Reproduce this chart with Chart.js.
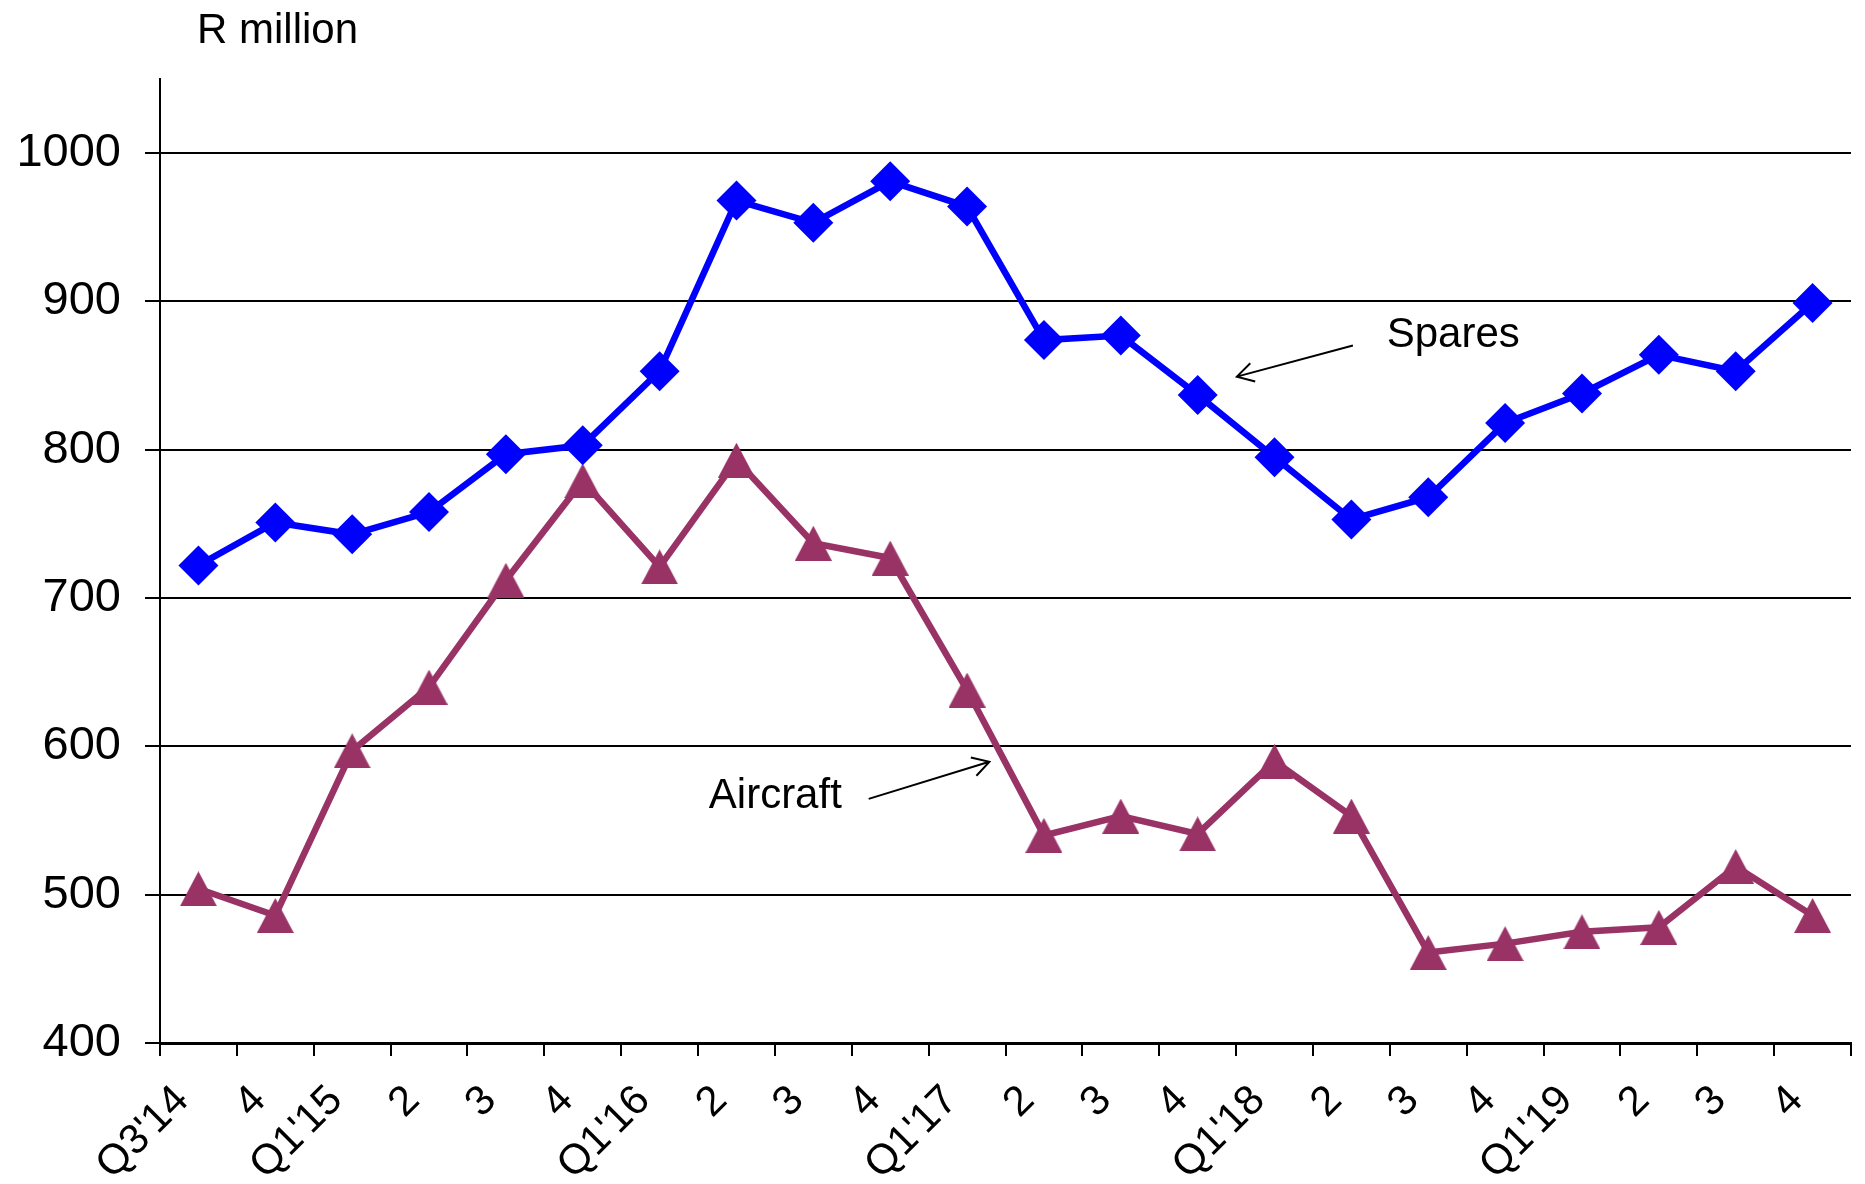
<!DOCTYPE html>
<html>
<head>
<meta charset="utf-8">
<script src="https://cdn.jsdelivr.net/npm/chart.js@4/dist/chart.umd.min.js"></script>
<style>
  html, body { margin: 0; padding: 0; background: #ffffff; }
  canvas { display: block; }
</style>
</head>
<body>
<canvas id="chart" width="1865" height="1184"></canvas>
<script>
// Quarterly revenue, R million
const quarters = ["Q3'14", "4", "Q1'15", "2", "3", "4", "Q1'16", "2", "3", "4",
                  "Q1'17", "2", "3", "4", "Q1'18", "2", "3", "4", "Q1'19", "2", "3", "4"];
const spares   = [722, 751, 743, 758, 797, 803, 853, 968, 953, 981, 964,
                  874, 877, 837, 795, 753, 768, 818, 838, 864, 853, 899];
const aircraft = [504, 486, 597, 640, 712, 779, 721, 793, 737, 727, 638,
                  540, 553, 541, 590, 553, 461, 467, 475, 478, 519, 486];
const yTicks = [400, 500, 600, 700, 800, 900, 1000];
const yMin = 400;
const yMax = 1050;
const unitLabel = 'R million';

// Callout labels, anchored in data units (category index, value)
const sparesNote   = { text: 'Spares',   at: [15.46, 869.6], from: [15.02, 870.3], to: [13.51, 849.3] };
const aircraftNote = { text: 'Aircraft', at: [6.64, 558.6],  from: [8.72, 564.6],  to: [10.29, 589.6] };

const FONT = "'Liberation Sans', Arial, Helvetica, sans-serif";
const BLUE = '#0000ff';
const PLUM = '#993366';

// Upright triangle marker centred on its box
function triangleMarker(w, h, color) {
  const c = document.createElement('canvas');
  c.width = w; c.height = h;
  const g = c.getContext('2d');
  g.fillStyle = color;
  g.beginPath();
  g.moveTo(w / 2, 0);
  g.lineTo(w, h);
  g.lineTo(0, h);
  g.closePath();
  g.fill();
  return c;
}

function drawArrow(ctx, x1, y1, x2, y2) {
  const ang = Math.atan2(y1 - y2, x1 - x2);
  const len = 19, spread = Math.PI / 6;
  ctx.beginPath();
  ctx.moveTo(x1, y1);
  ctx.lineTo(x2, y2);
  ctx.moveTo(x2 + len * Math.cos(ang - spread), y2 + len * Math.sin(ang - spread));
  ctx.lineTo(x2, y2);
  ctx.lineTo(x2 + len * Math.cos(ang + spread), y2 + len * Math.sin(ang + spread));
  ctx.stroke();
}

const annotations = {
  id: 'annotations',
  afterDraw(chart) {
    const { ctx, scales: { x, y }, chartArea } = chart;
    ctx.save();
    ctx.fillStyle = '#000';
    ctx.strokeStyle = '#000';
    ctx.lineWidth = 2;
    ctx.textBaseline = 'alphabetic';
    ctx.textAlign = 'left';

    ctx.font = `42px ${FONT}`;
    ctx.fillText(unitLabel, chartArea.left + 37, 43);

    for (const note of [sparesNote, aircraftNote]) {
      ctx.fillText(note.text, x.getPixelForValue(note.at[0]), y.getPixelForValue(note.at[1]));
      drawArrow(ctx,
        x.getPixelForValue(note.from[0]), y.getPixelForValue(note.from[1]),
        x.getPixelForValue(note.to[0]), y.getPixelForValue(note.to[1]));
    }
    ctx.restore();
  }
};

new Chart(document.getElementById('chart'), {
  type: 'line',
  data: {
    labels: quarters,
    datasets: [
      {
        label: 'Spares',
        data: spares,
        borderColor: BLUE,
        backgroundColor: BLUE,
        borderWidth: 6.5,
        tension: 0,
        pointStyle: 'rectRot',
        pointRadius: 20,
        pointBorderWidth: 0,
        pointBackgroundColor: BLUE
      },
      {
        label: 'Aircraft',
        data: aircraft,
        borderColor: PLUM,
        backgroundColor: PLUM,
        borderWidth: 6.5,
        tension: 0,
        pointStyle: triangleMarker(37, 35, PLUM),
        pointRadius: 18,
        pointBorderWidth: 0
      }
    ]
  },
  options: {
    responsive: false,
    animation: false,
    devicePixelRatio: 1,
    layout: { autoPadding: false, padding: { top: 79, right: 14, left: 0, bottom: 0 } },
    plugins: {
      legend: { display: false },
      tooltip: { enabled: false }
    },
    scales: {
      x: {
        type: 'category',
        offset: true,
        grid: {
          offset: true,
          drawOnChartArea: false,
          drawTicks: true,
          tickLength: 13,
          color: '#000',
          lineWidth: 2
        },
        border: { display: true, color: '#000', width: 3 },
        ticks: {
          autoSkip: false,
          minRotation: 45,
          maxRotation: 45,
          color: '#000',
          padding: 20,
          labelOffset: -16,
          font: { family: FONT, size: 42 }
        },
        afterFit(scale) {
          scale.height = 141;
          scale.paddingLeft = 0;
          scale.paddingRight = 0;
        }
      },
      y: {
        min: yMin,
        max: yMax,
        afterBuildTicks(scale) { scale.ticks = yTicks.map(v => ({ value: v })); },
        grid: { color: '#000', lineWidth: 2, tickLength: 15 },
        border: { display: true, color: '#000', width: 2 },
        ticks: {
          color: '#000',
          padding: 24,
          font: { family: FONT, size: 47 },
          callback: (value) => String(value)
        },
        afterFit(scale) {
          scale.width = 160;
          scale.paddingTop = 0;
          scale.paddingBottom = 0;
        }
      }
    }
  },
  plugins: [annotations]
});
</script>
</body>
</html>
